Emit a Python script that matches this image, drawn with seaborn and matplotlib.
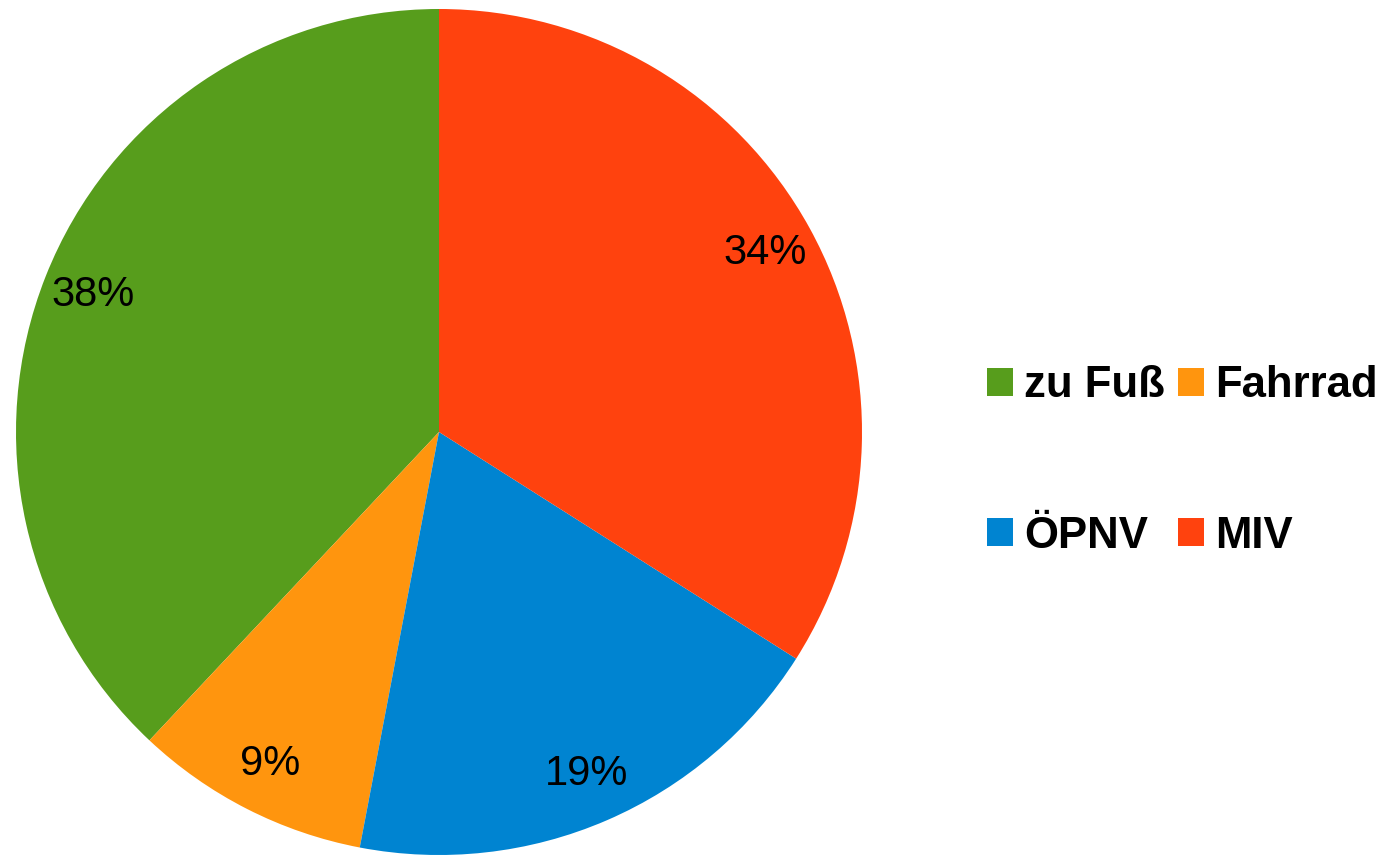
import matplotlib
matplotlib.use("Agg")
import matplotlib.pyplot as plt
import seaborn as sns
from matplotlib.patches import Patch

# Modal split data
categories = ["zu Fuß", "Fahrrad", "ÖPNV", "MIV"]
shares = [38, 9, 19, 34]
colors = ["#579D1C", "#FF950E", "#0084D1", "#FF420E"]

sns.set_theme(style="white")
plt.rcParams['font.family'] = ['Liberation Sans', 'DejaVu Sans']
plt.rcParams['text.color'] = 'black'

fig = plt.figure(figsize=(13.82, 8.56), dpi=100)
# pie centre ~(439, 432) px, radius ~423 px
r = 423
ax = fig.add_axes([(439 - r) / 1382, (856 - 432 - r) / 856, 2 * r / 1382, 2 * r / 856])

palette = sns.color_palette(colors)
wedges, texts, autotexts = ax.pie(
    shares, colors=palette, startangle=90, counterclock=True,
    autopct=lambda p: f"{p:.0f}%", pctdistance=0.88, radius=1.0,
    wedgeprops=dict(linewidth=0),
    textprops=dict(fontsize=30, color="black"),
)
ax.set_xlim(-1, 1)
ax.set_ylim(-1, 1)
ax.set_aspect("equal")
ax.axis("off")

# legend is filled row by row in the reference -> reorder for column-major fill
order = [0, 2, 1, 3]
handles = [Patch(facecolor=palette[i], edgecolor="none") for i in order]
labels = [categories[i] for i in order]
fig.legend(handles, labels, loc="center left",
           bbox_to_anchor=(987 / 1382, 1 - 461 / 856),
           ncol=2, frameon=False, borderpad=0, borderaxespad=0,
           handlelength=0.6, handleheight=0.6, handletextpad=0.25,
           columnspacing=0.3, labelspacing=2.5, labelcolor="black",
           prop=dict(family="Liberation Sans", weight="bold", size=31.5))

fig.savefig("out.png", dpi=100)
